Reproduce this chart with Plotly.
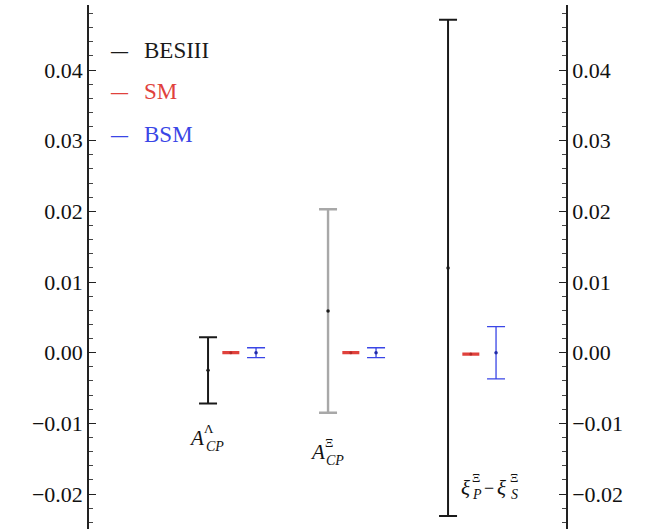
import plotly.graph_objects as go

# ---------------- data ----------------
categories = ["A_CP^Λ", "A_CP^Ξ", "ξ_P^Ξ − ξ_S^Ξ"]
besiii_value = [-0.0025, 0.0059, 0.0120]
besiii_error = [0.0047, 0.0144, 0.0351]
sm_value = [0.0, 0.0, -0.0002]
sm_error = [0.00008, 0.00008, 0.00008]
bsm_value = [0.0, 0.0, 0.0]
bsm_error = [0.0007, 0.0007, 0.0037]
y_tick_values = [-0.02, -0.01, 0.0, 0.01, 0.02, 0.03, 0.04]
y_tick_labels = ["\u22120.02", "\u22120.01", "0.00", "0.01", "0.02", "0.03", "0.04"]
legend_names = ["BESIII", "SM", "BSM"]

# ---------------- style ----------------
FONT = "Liberation Serif"
BLACK = "#1a1a1a"
GRAY = "#a8a8a8"
RED = "#e0413c"
BLUE = "#3a46e6"
besiii_colors = [BLACK, GRAY, BLACK]
besiii_thick = [2, 2.4, 2]
SM_OFF, BSM_OFF = 0.19, 0.40
Y_RANGE = [-0.02495, 0.0492]
X_RANGE = [0.008, 3.983]

xc = [i + 1 for i in range(len(categories))]

fig = go.Figure()

for i in range(len(categories)):
    fig.add_trace(go.Scatter(
        x=[xc[i]], y=[besiii_value[i]], mode="markers",
        marker=dict(size=3.5, color=BLACK),
        error_y=dict(type="data", array=[besiii_error[i]], visible=True,
                     color=besiii_colors[i], thickness=besiii_thick[i], width=9),
        showlegend=False, hoverinfo="skip"))

fig.add_trace(go.Scatter(
    x=[v + SM_OFF for v in xc], y=sm_value, mode="markers",
    marker=dict(size=3, color="#b02a26"),
    error_y=dict(type="data", array=sm_error, visible=True,
                 color=RED, thickness=2, width=8.5),
    showlegend=False, hoverinfo="skip"))

fig.add_trace(go.Scatter(
    x=[v + BSM_OFF for v in xc], y=bsm_value, mode="markers",
    marker=dict(size=3.5, color="#1f2aa8"),
    error_y=dict(type="data", array=bsm_error, visible=True,
                 color=BLUE, thickness=1.3, width=9),
    showlegend=False, hoverinfo="skip"))

# invisible trace so the right-hand axis is drawn
fig.add_trace(go.Scatter(x=[2], y=[0], yaxis="y2", mode="markers",
                         marker=dict(opacity=0), showlegend=False, hoverinfo="skip"))

axis_common = dict(
    range=Y_RANGE, showgrid=False, zeroline=False,
    showline=True, linecolor="#222222", linewidth=1.5,
    ticks="inside", ticklen=7, tickwidth=1.2, tickcolor="#222222",
    tickmode="array", tickvals=y_tick_values, ticktext=y_tick_labels,
    tickfont=dict(family=FONT, size=22, color="#111111"),
    minor=dict(tickmode="linear", tick0=0, dtick=0.002, ticks="inside",
               ticklen=4, tickwidth=1, tickcolor="#444444"),
)

# ---------------- category labels (stacked scripts) ----------------
# (anchor y value, list of (text, size, italic, dx px, dy px))
label_specs = [
    (-0.01214, [("A", 21, True, -12, 0), ("Λ", 13, False, 1, 10), ("CP", 14, True, 7, -8.5)]),
    (-0.01405, [("A", 21, True, -10.5, 0), ("Ξ", 13, False, 0.5, 9.5), ("CP", 14, True, 6.5, -8.5)]),
    (-0.01920, [("ξ", 21, True, 17, 0), ("Ξ", 13, False, 28, 10.5), ("P", 14, True, 29, -6),
                ("\u2212", 18, False, 40.5, 0), ("ξ", 21, True, 53.5, 0),
                ("Ξ", 13, False, 66, 10.5), ("S", 14, True, 66, -6)]),
]
annotations = []
for i, (yv, parts) in enumerate(label_specs):
    for (t, sz, it, dx, dy) in parts:
        txt = f"<i>{t}</i>" if it else t
        annotations.append(dict(
            x=xc[i], y=yv, xref="x", yref="y", text=txt, showarrow=False,
            xanchor="center", yanchor="middle", xshift=dx, yshift=dy,
            font=dict(family=FONT, size=sz, color="#111111")))

# ---------------- legend (text) ----------------
legend_colors = [BLACK, RED, BLUE]
legend_y_px = [50, 91, 134]
PL, PT, PW, PH = 89, 5, 477, 524
for name, col, ypx in zip(legend_names, legend_colors, legend_y_px):
    yp = (PT + PH - ypx) / PH
    annotations.append(dict(
        x=(119 - PL) / PW, y=yp - 0.002, xref="paper", yref="paper", text="<b>—</b>",
        showarrow=False, xanchor="center", yanchor="middle",
        font=dict(family=FONT, size=17, color=col)))
    annotations.append(dict(
        x=(142 - PL) / PW, y=yp, xref="paper", yref="paper", text=name,
        showarrow=False, xanchor="left", yanchor="middle",
        font=dict(family=FONT, size=23, color=col)))

fig.update_layout(
    width=646, height=529,
    margin=dict(l=PL, r=646 - PL - PW, t=PT, b=0, pad=0),
    paper_bgcolor="white", plot_bgcolor="white",
    xaxis=dict(range=X_RANGE, visible=False),
    yaxis=axis_common,
    yaxis2=dict(**axis_common, overlaying="y", side="right"),
    annotations=annotations,
    showlegend=False,
    font=dict(family=FONT),
)

fig.write_html("out.html")
